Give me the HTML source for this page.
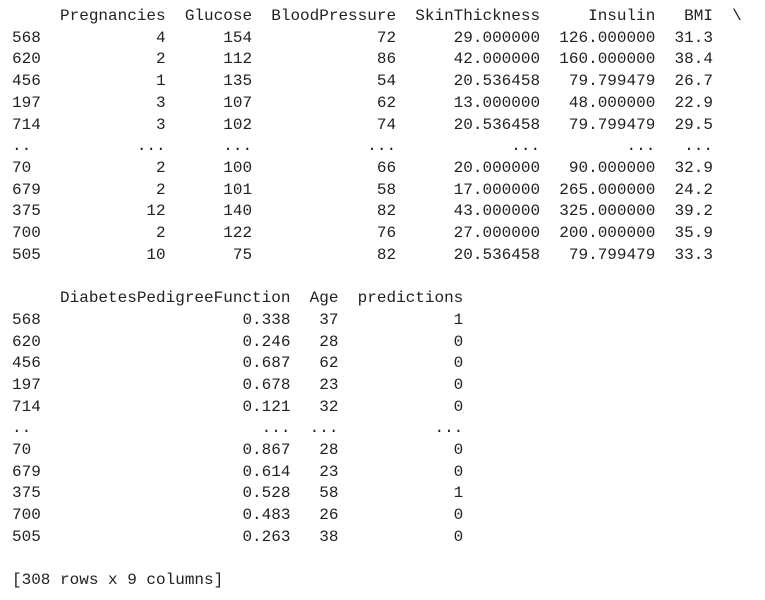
<!DOCTYPE html>
<html><head><meta charset="utf-8"><style>
html,body{margin:0;padding:0;background:#fff;width:765px;height:600px;overflow:hidden}
pre{margin:0;position:absolute;left:12px;top:6px;font-family:"Liberation Mono",monospace;font-size:16px;line-height:21.7px;color:#212121;letter-spacing:0}
</style></head><body>
<pre>     Pregnancies  Glucose  BloodPressure  SkinThickness     Insulin   BMI  \
568            4      154             72      29.000000  126.000000  31.3   
620            2      112             86      42.000000  160.000000  38.4   
456            1      135             54      20.536458   79.799479  26.7   
197            3      107             62      13.000000   48.000000  22.9   
714            3      102             74      20.536458   79.799479  29.5   
..           ...      ...            ...            ...         ...   ...   
70             2      100             66      20.000000   90.000000  32.9   
679            2      101             58      17.000000  265.000000  24.2   
375           12      140             82      43.000000  325.000000  39.2   
700            2      122             76      27.000000  200.000000  35.9   
505           10       75             82      20.536458   79.799479  33.3   

     DiabetesPedigreeFunction  Age  predictions  
568                     0.338   37            1  
620                     0.246   28            0  
456                     0.687   62            0  
197                     0.678   23            0  
714                     0.121   32            0  
..                        ...  ...          ...  
70                      0.867   28            0  
679                     0.614   23            0  
375                     0.528   58            1  
700                     0.483   26            0  
505                     0.263   38            0  

[308 rows x 9 columns]</pre>
</body></html>
